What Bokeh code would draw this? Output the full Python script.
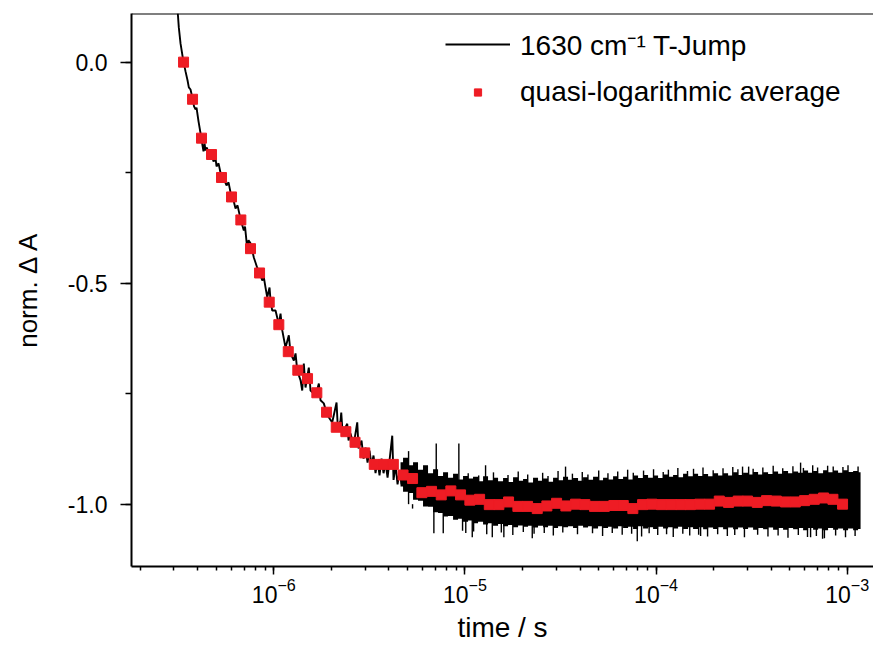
import numpy as np
from bokeh.plotting import figure
from bokeh.models import (Range1d, Span, Legend, LegendItem, SingleIntervalTicker,
                          PrintfTickFormatter, ColumnDataSource)
from bokeh.embed import file_html
from bokeh.resources import INLINE

# ---------------- data (time in microseconds) ----------------
# raw 1630 cm-1 T-jump trace, early part
trace_t_us = [0.3145, 0.3183, 0.3249, 0.3357, 0.3451, 0.3535, 0.3591, 0.3665, 0.3755, 0.3823,
              0.3893, 0.3940, 0.4036, 0.4169, 0.4235, 0.4286, 0.4339, 0.4392, 0.4445, 0.4553,
              0.4721, 0.4836, 0.4954, 0.5014, 0.5137, 0.5325, 0.5521, 0.5655, 0.5794, 0.6007,
              0.6153, 0.6303, 0.6457, 0.6720, 0.6966, 0.7068, 0.7258, 0.7373, 0.7553, 0.7709,
              0.7858, 0.8186, 0.8417, 0.8697, 0.8866, 0.9049, 0.9236, 0.9495, 0.9610, 0.9809,
              1.0207, 1.062, 1.084, 1.107, 1.151, 1.198, 1.223, 1.273, 1.299, 1.326,
              1.380, 1.408, 1.435, 1.465, 1.524, 1.556, 1.619, 1.673, 1.720, 1.755,
              1.826, 1.887, 1.941, 2.021, 2.129, 2.162, 2.234, 2.253, 2.289, 2.325,
              2.422, 2.460, 2.520, 2.613, 2.732, 2.775, 2.877, 2.948, 3.019, 3.093,
              3.168, 3.245, 3.324, 3.405, 3.488, 3.573, 3.661, 3.750, 3.842, 3.936,
              4.031, 4.165, 4.230, 4.334, 4.440, 4.548, 4.659, 4.772]
trace_y = [0.110, 0.0785, 0.0423, 0.004, -0.021, -0.041, -0.057, -0.062, -0.082, -0.100,
           -0.107, -0.103, -0.134, -0.170, -0.189, -0.202, -0.184, -0.200, -0.193, -0.202,
           -0.209, -0.225, -0.218, -0.236, -0.229, -0.261, -0.268, -0.279, -0.272, -0.306,
           -0.313, -0.331, -0.324, -0.358, -0.381, -0.372, -0.422, -0.403, -0.410, -0.426,
           -0.442, -0.465, -0.476, -0.494, -0.487, -0.510, -0.532, -0.510, -0.539, -0.562,
           -0.562, -0.593, -0.569, -0.607, -0.646, -0.618, -0.659, -0.675, -0.659, -0.698,
           -0.720, -0.743, -0.682, -0.736, -0.691, -0.743, -0.750, -0.747, -0.727, -0.765,
           -0.772, -0.793, -0.804, -0.815, -0.770, -0.827, -0.811, -0.793, -0.838, -0.833,
           -0.818, -0.856, -0.840, -0.867, -0.815, -0.874, -0.856, -0.897, -0.872, -0.906,
           -0.879, -0.912, -0.890, -0.930, -0.901, -0.935, -0.897, -0.930, -0.906, -0.940,
           -0.901, -0.845, -0.945, -0.912, -0.955, -0.924, -0.955, -0.919]

# dense noisy part of the trace: upper / lower envelope
band_t_us = [4.603, 4.889, 5.193, 5.513, 5.856, 6.220, 6.607, 7.018, 7.454, 7.915,
             8.408, 8.929, 9.484, 10.07, 10.70, 11.36, 12.07, 12.82, 13.61, 14.46,
             15.36, 16.31, 17.32, 18.40, 19.54, 20.76, 22.04, 23.41, 24.86, 26.41,
             28.05, 29.79, 31.64, 33.60, 35.69, 37.91, 40.26, 42.76, 45.41, 48.24,
             51.23, 54.41, 57.80, 61.39, 65.20, 69.25, 73.55, 78.12, 82.97, 88.12,
             93.59, 99.40, 105.6, 112.1, 119.1, 126.5, 134.3, 142.7, 151.5, 161.0,
             171.0, 181.6, 192.9, 204.8, 217.6, 231.1, 245.4, 260.6, 276.8, 294.0,
             312.3, 331.7, 352.3, 374.1, 397.4, 422.0, 448.2, 476.0, 505.6, 537.0,
             570.4, 605.8, 643.4, 683.3, 725.7, 770.8, 818.7, 869.5, 923.5, 980.8,
             1042.0, 1107.0, 1175.0]
band_hi = [-0.905, -0.895, -0.912, -0.905, -0.922, -0.912, -0.930, -0.921, -0.936, -0.928,
           -0.940, -0.931, -0.944, -0.936, -0.942, -0.938, -0.948, -0.937, -0.946, -0.940,
           -0.948, -0.941, -0.950, -0.939, -0.947, -0.943, -0.951, -0.940, -0.947, -0.942,
           -0.949, -0.940, -0.946, -0.938, -0.945, -0.941, -0.947, -0.939, -0.945, -0.938,
           -0.946, -0.940, -0.944, -0.937, -0.943, -0.938, -0.944, -0.935, -0.941, -0.934,
           -0.940, -0.935, -0.941, -0.933, -0.938, -0.934, -0.939, -0.931, -0.937, -0.931,
           -0.936, -0.932, -0.937, -0.930, -0.935, -0.930, -0.935, -0.928, -0.934, -0.929,
           -0.933, -0.927, -0.933, -0.928, -0.932, -0.926, -0.931, -0.925, -0.930, -0.926,
           -0.929, -0.924, -0.929, -0.925, -0.930, -0.923, -0.928, -0.924, -0.929, -0.923,
           -0.927, -0.925, -0.928]
band_lo = [-0.960, -0.972, -0.975, -0.990, -0.992, -1.005, -1.006, -1.018, -1.020, -1.028,
           -1.027, -1.035, -1.033, -1.040, -1.037, -1.043, -1.040, -1.046, -1.043, -1.049,
           -1.045, -1.050, -1.047, -1.052, -1.048, -1.051, -1.049, -1.053, -1.049, -1.052,
           -1.049, -1.054, -1.050, -1.052, -1.050, -1.054, -1.049, -1.053, -1.050, -1.055,
           -1.050, -1.054, -1.051, -1.055, -1.050, -1.054, -1.051, -1.056, -1.050, -1.055,
           -1.052, -1.056, -1.051, -1.055, -1.052, -1.055, -1.051, -1.056, -1.052, -1.056,
           -1.052, -1.057, -1.053, -1.056, -1.052, -1.057, -1.053, -1.057, -1.053, -1.056,
           -1.053, -1.058, -1.054, -1.057, -1.053, -1.058, -1.054, -1.058, -1.054, -1.057,
           -1.054, -1.059, -1.054, -1.058, -1.055, -1.059, -1.054, -1.058, -1.055, -1.059,
           -1.055, -1.059, -1.056]

# noise spikes sticking out of the band (time, tip value)
spike_t_us = [5.07, 5.319, 6.877, 7.076, 7.699, 9.292, 9.716, 10.92, 12.82, 13.90,
              15.98, 22.50, 33.60, 79.73, 171.0, 283.5, 570.4, 643.4, 743.4,
              10.4, 11.8, 14.1, 16.8, 19.0, 21.3, 25.5, 27.2, 30.7, 36.5,
              41.1, 44.0, 50.1, 56.0, 63.0, 71.0, 76.0, 86.0, 97.0, 109.0,
              116.0, 130.0, 146.0, 157.0, 176.0, 199.0, 224.0, 252.0, 268.0, 305.0,
              322.0, 362.0, 410.0, 460.0, 520.0, 590.0, 660.0, 700.0, 790.0, 845.0,
              950.0, 1010.0, 1140.0,
              10.1, 11.1, 13.0, 15.5, 17.8, 20.2, 23.0, 26.0, 29.0, 32.5,
              38.8, 46.5, 52.5, 59.0, 66.5, 74.5, 84.0, 92.0, 102.0, 113.5,
              123.0, 138.0, 150.0, 167.0, 186.0, 210.0, 236.0, 258.0, 290.0, 340.0,
              385.0, 435.0, 490.0, 555.0, 620.0, 690.0, 760.0, 870.0, 980.0, 1100.0]
spike_tip = [-0.880, -1.010, -1.066, -0.863, -1.066, -0.863, -1.060, -1.075, -0.912, -1.075,
             -1.075, -1.077, -0.915, -1.084, -1.072, -0.915, -0.906, -1.075, -1.078,
             -0.930, -0.935, -0.928, -0.934, -0.926, -0.933, -0.929, -0.936, -0.925, -0.931,
             -0.927, -0.933, -0.924, -0.930, -0.926, -0.922, -0.929, -0.924, -0.921, -0.927,
             -0.922, -0.918, -0.925, -0.920, -0.917, -0.923, -0.919, -0.916, -0.921, -0.915,
             -0.920, -0.917, -0.913, -0.919, -0.914, -0.918, -0.912, -0.917, -0.913, -0.915,
             -0.916, -0.912, -0.915,
             -1.065, -1.062, -1.068, -1.064, -1.070, -1.063, -1.067, -1.065, -1.071, -1.064,
             -1.068, -1.066, -1.072, -1.065, -1.069, -1.067, -1.073, -1.066, -1.070, -1.068,
             -1.074, -1.067, -1.071, -1.069, -1.073, -1.068, -1.072, -1.070, -1.075, -1.069,
             -1.073, -1.071, -1.076, -1.070, -1.074, -1.072, -1.077, -1.071, -1.075, -1.072]
spike_base = -1.0

# quasi-logarithmic average
avg_t_us = [0.337, 0.3755, 0.4184, 0.472, 0.5324, 0.6007, 0.672, 0.755, 0.842, 0.946,
            1.062, 1.190, 1.335, 1.501, 1.679, 1.887, 2.121, 2.381, 2.660, 2.991,
            3.353, 3.764, 4.220, 4.744, 5.319, 5.951, 6.686, 7.516, 8.437, 9.484,
            10.61, 11.93, 13.41, 15.05, 16.91, 18.92, 21.27, 23.89, 26.83, 30.16,
            33.73, 37.92, 42.41, 47.67, 53.58, 60.14, 67.35, 75.60, 85.00, 95.07,
            106.9, 120.1, 134.9, 151.0, 169.5, 190.5, 214.2, 239.5, 269.2, 301.1,
            338.4, 378.6, 425.7, 476.0, 535.0, 598.5, 672.8, 752.5, 842.0, 945.9]
avg_y = [0.0, -0.084, -0.172, -0.209, -0.261, -0.305, -0.357, -0.422, -0.477, -0.543,
         -0.594, -0.655, -0.697, -0.716, -0.748, -0.792, -0.826, -0.836, -0.860, -0.884,
         -0.910, -0.910, -0.910, -0.934, -0.942, -0.974, -0.971, -0.979, -0.970, -0.979,
         -0.991, -0.989, -1.001, -1.001, -0.995, -1.005, -1.005, -1.010, -1.004, -0.998,
         -1.004, -1.000, -1.001, -1.005, -1.005, -1.003, -1.003, -1.010, -1.001, -1.000,
         -1.001, -1.001, -1.001, -1.001, -1.000, -1.000, -0.993, -0.996, -0.993, -0.993,
         -0.996, -0.992, -0.993, -0.995, -0.995, -0.992, -0.989, -0.986, -0.989, -1.000]

x_start, x_end = 1.80e-7, 1.373e-3
y_start, y_end = -1.141, 0.110

US = 1e-6
FONT = "Liberation Sans"

# ---------------- figure ----------------
p = figure(width=873, height=646, x_axis_type="log",
           x_range=Range1d(x_start, x_end), y_range=Range1d(y_start, y_end),
           output_backend="svg", toolbar_location=None,
           min_border_left=131, min_border_right=0, min_border_top=13, min_border_bottom=80)
p.outline_line_color = None
p.xgrid.visible = False
p.ygrid.visible = False
p.background_fill_color = "white"

band_src = ColumnDataSource(dict(t=np.array(band_t_us) * US, hi=band_hi, lo=band_lo))
p.varea_step(x="t", y1="lo", y2="hi", step_mode="center", source=band_src, fill_color="black")

spike_src = ColumnDataSource(dict(t=np.array(spike_t_us) * US, tip=spike_tip,
                                  base=[spike_base] * len(spike_tip)))
p.segment(x0="t", y0="base", x1="t", y1="tip", source=spike_src, line_color="black", line_width=1.4)

trace = p.line(np.array(trace_t_us) * US, trace_y, line_color="black", line_width=1.9)

avg = p.scatter(np.array(avg_t_us) * US, avg_y, marker="square", size=10,
                fill_color="#ee1c24", line_color="#ee1c24")

# top frame border
p.add_layout(Span(location=y_end, dimension="width", line_color="black", line_width=2))

# axes
for ax in (p.xaxis[0], p.yaxis[0]):
    ax.axis_line_width = 2
    ax.axis_line_color = "black"
    ax.major_tick_line_color = "black"
    ax.minor_tick_line_color = "black"
    ax.major_tick_line_width = 1.5
    ax.minor_tick_line_width = 1.5
    ax.major_tick_in = 0
    ax.minor_tick_in = 0
    ax.major_label_text_font = FONT
    ax.major_label_text_color = "black"
    ax.major_label_text_font_size = "23px"
    ax.axis_label_text_font = FONT
    ax.axis_label_text_font_style = "normal"
    ax.axis_label_text_color = "black"

p.xaxis.major_tick_out = 8
p.xaxis.minor_tick_out = 4
p.xaxis.major_label_standoff = 3
p.xaxis.axis_label = "time / s"
p.xaxis.axis_label_text_font_size = "28px"
p.xaxis.axis_label_standoff = 6

p.yaxis.ticker = SingleIntervalTicker(interval=0.5, num_minor_ticks=2)
p.yaxis.formatter = PrintfTickFormatter(format="%.1f")
p.yaxis.major_tick_out = 11
p.yaxis.minor_tick_out = 6
p.yaxis.major_label_standoff = 13
p.yaxis.axis_label = "norm. \u0394 A"
p.yaxis.axis_label_text_font_size = "26px"
p.yaxis.axis_label_standoff = 22

legend = Legend(items=[LegendItem(label="1630 cm\u207b\u00b9 T-Jump", renderers=[trace]),
                       LegendItem(label="quasi-logarithmic average", renderers=[avg])],
                location=(314, 458), glyph_width=65, glyph_height=18, label_height=18,
                label_standoff=10, spacing=13, padding=0, margin=0,
                border_line_color=None, background_fill_alpha=0,
                label_text_font=FONT, label_text_font_size="28px", label_text_color="black")
p.add_layout(legend)

open("out.html", "w").write(file_html(p, INLINE))
